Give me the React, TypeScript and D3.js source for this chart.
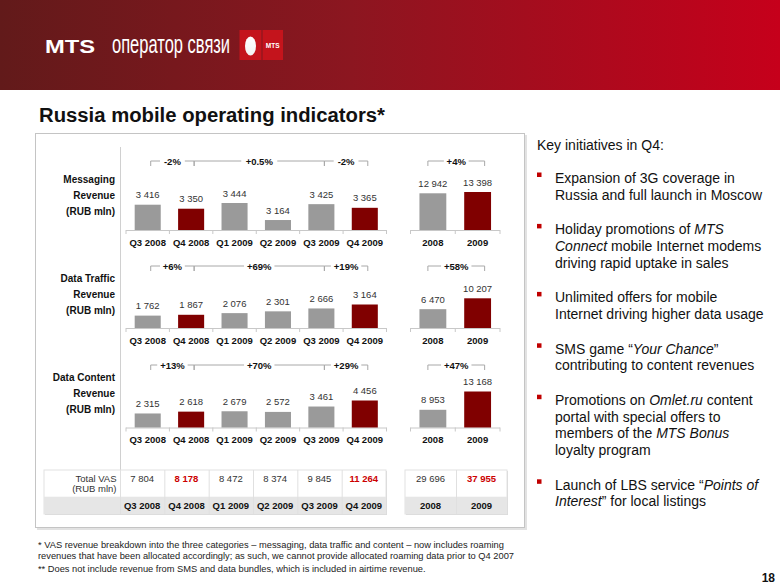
import React from "react";
import * as d3 from "d3";

const W = 780;
const H = 586;
const FONT = "Liberation Sans, Arial, Helvetica, sans-serif";

// ---- data ----
const quarters = ["Q3 2008", "Q4 2008", "Q1 2009", "Q2 2009", "Q3 2009", "Q4 2009"];
const years = ["2008", "2009"];
const highlightQ = ["Q4 2008", "Q4 2009"];
const highlightY = ["2009"];

const messagingQ = [3416, 3350, 3444, 3164, 3425, 3365];
const messagingY = [12942, 13398];
const messagingGrowth = ["-2%", "+0.5%", "-2%"];
const messagingYearGrowth = "+4%";

const trafficQ = [1762, 1867, 2076, 2301, 2666, 3164];
const trafficY = [6470, 10207];
const trafficGrowth = ["+6%", "+69%", "+19%"];
const trafficYearGrowth = "+58%";

const contentQ = [2315, 2618, 2679, 2572, 3461, 4456];
const contentY = [8953, 13168];
const contentGrowth = ["+13%", "+70%", "+29%"];
const contentYearGrowth = "+47%";

const growthPairs: [number, number][] = [[0, 1], [1, 4], [4, 5]];

const totalVasQ = [7804, 8178, 8472, 8374, 9845, 11264];
const totalVasY = [29696, 37955];

const bullets: [string, boolean][][][] = [
  [[["Expansion of 3G coverage in", false]], [["Russia and full launch in Moscow", false]]],
  [
    [["Holiday promotions of ", false], ["MTS", true]],
    [["Connect", true], [" mobile Internet modems", false]],
    [["driving rapid uptake in sales", false]],
  ],
  [[["Unlimited offers for mobile", false]], [["Internet driving higher data usage", false]]],
  [
    [["SMS game \u201C", false], ["Your Chance", true], ["\u201D", false]],
    [["contributing to content revenues", false]],
  ],
  [
    [["Promotions on ", false], ["Omlet.ru", true], [" content", false]],
    [["portal with special offers to", false]],
    [["members of the ", false], ["MTS Bonus", true]],
    [["loyalty program", false]],
  ],
  [
    [["Launch of LBS service \u201C", false], ["Points of", true]],
    [["Interest", true], ["\u201D for local listings", false]],
  ],
];

const fmt = d3
  .formatLocale({ decimal: ".", thousands: " ", grouping: [3], currency: ["", ""] })
  .format(",d");

const GREY = "#9a9a9a";
const RED = "#800000";

type Row = {
  label: string[];
  q: number[];
  y: number[];
  qg: string[];
  yg: string;
  axis: number;
  bracket: number;
  labelTop: number;
  qBase: number;
  qMaxH: number;
  yBase: number;
  yMaxH: number;
};

const rows: Row[] = [
  { label: ["Messaging", "Revenue", "(RUB mln)"], q: messagingQ, y: messagingY, qg: messagingGrowth, yg: messagingYearGrowth,
    axis: 230, bracket: 161, labelTop: 179, qBase: 3000, qMaxH: 27, yBase: 0, yMaxH: 38 },
  { label: ["Data Traffic", "Revenue", "(RUB mln)"], q: trafficQ, y: trafficY, qg: trafficGrowth, yg: trafficYearGrowth,
    axis: 328, bracket: 266, labelTop: 278, qBase: 200, qMaxH: 23.5, yBase: 0, yMaxH: 29.7 },
  { label: ["Data Content", "Revenue", "(RUB mln)"], q: contentQ, y: contentY, qg: contentGrowth, yg: contentYearGrowth,
    axis: 427.5, bracket: 365, labelTop: 377.5, qBase: 0, qMaxH: 27, yBase: 4875, yMaxH: 36 },
];

function Bracket({ x1, x2, y, text }: { x1: number; x2: number; y: number; text: string }) {
  const mid = (x1 + x2) / 2;
  const tw = text.length * 5.6 + 8;
  return (
    <g>
      <path d={`M${x1},${y + 5}V${y}H${x2}V${y + 5}`} fill="none" stroke="#a8a8a8" strokeWidth={1} />
      <rect x={mid - tw / 2} y={y - 6} width={tw} height={12} fill="#fff" />
      <text x={mid} y={y + 3.5} textAnchor="middle" fontWeight="bold" fontSize={9.5} fill="#111">
        {text}
      </text>
    </g>
  );
}

function ChartRow({ r, qx, yx }: { r: Row; qx: d3.ScaleBand<string>; yx: d3.ScaleBand<string> }) {
  const qy = d3.scaleLinear().domain([r.qBase, d3.max(r.q) as number]).range([r.axis, r.axis - r.qMaxH]);
  const yy = d3.scaleLinear().domain([r.yBase, d3.max(r.y) as number]).range([r.axis, r.axis - r.yMaxH]);
  const qc = (i: number) => (qx(quarters[i]) as number) + qx.bandwidth() / 2;
  const yc = (i: number) => (yx(years[i]) as number) + yx.bandwidth() / 2;
  const qr = qx.range();
  const yr = yx.range();
  return (
    <g>
      {r.label.map((l, i) => (
        <text key={l} x={115} y={r.labelTop + i * 16 + 3.5} textAnchor="end" fontWeight="bold" fontSize={10} fill="#111">
          {l}
        </text>
      ))}
      {/* quarterly axis */}
      <line x1={qr[0]} x2={qr[1]} y1={r.axis + 0.5} y2={r.axis + 0.5} stroke="#c8c8c8" />
      {d3.range(quarters.length + 1).map((i) => (
        <line key={i} x1={qr[0] + i * qx.step()} x2={qr[0] + i * qx.step()} y1={r.axis} y2={r.axis + 4} stroke="#c8c8c8" />
      ))}
      {quarters.map((q, i) => {
        const top = qy(r.q[i]);
        return (
          <g key={q}>
            <rect x={qx(q)} y={top} width={qx.bandwidth()} height={r.axis - top} fill={highlightQ.includes(q) ? RED : GREY} />
            <text x={qc(i)} y={top - 6.5} textAnchor="middle" fontSize={9.5} fill="#333">
              {fmt(r.q[i])}
            </text>
            <text x={qc(i)} y={r.axis + 15.5} textAnchor="middle" fontWeight="bold" fontSize={9.5} fill="#111">
              {q}
            </text>
          </g>
        );
      })}
      {growthPairs.map(([a, b], i) => (
        <Bracket key={i} x1={qc(a) + 3} x2={qc(b) + 3} y={r.bracket} text={r.qg[i]} />
      ))}
      {/* annual axis */}
      <line x1={yr[0]} x2={yr[1]} y1={r.axis + 0.5} y2={r.axis + 0.5} stroke="#c8c8c8" />
      {d3.range(years.length + 1).map((i) => (
        <line key={i} x1={yr[0] + i * yx.step()} x2={yr[0] + i * yx.step()} y1={r.axis} y2={r.axis + 4} stroke="#c8c8c8" />
      ))}
      {years.map((yv, i) => {
        const top = yy(r.y[i]);
        return (
          <g key={yv}>
            <rect x={yx(yv)} y={top} width={yx.bandwidth()} height={r.axis - top} fill={highlightY.includes(yv) ? RED : GREY} />
            <text x={yc(i)} y={top - 6.5} textAnchor="middle" fontSize={9.5} fill="#333">
              {fmt(r.y[i])}
            </text>
            <text x={yc(i)} y={r.axis + 15.5} textAnchor="middle" fontWeight="bold" fontSize={9.5} fill="#111">
              {yv}
            </text>
          </g>
        );
      })}
      <Bracket x1={yc(0) - 5} x2={yc(1) + 7} y={r.bracket} text={r.yg} />
    </g>
  );
}

export default function App() {
  const qx = d3.scaleBand<string>().domain(quarters).range([126, 386.5]).paddingInner(0.4).paddingOuter(0.2);
  const yx = d3.scaleBand<string>().domain(years).range([410.5, 500]).paddingInner(0.4).paddingOuter(0.2);
  const tq = d3.scaleBand<string>().domain(quarters).range([120, 386]);
  const ty = d3.scaleBand<string>().domain(years).range([405, 507]);

  // bullet layout
  const lineStep = 16.6;
  const bulletGap = 18.2;
  let cy = 178;
  const bulletLayout = bullets.map((b) => {
    const ys = b.map((_, i) => cy + i * lineStep);
    cy += b.length * lineStep + bulletGap;
    return ys;
  });

  const t1 = 470, t2 = 496.7, t3 = 514;

  return (
    <svg width={W} height={H} style={{ position: "absolute", left: 0, top: 0, background: "#fff" }} fontFamily={FONT}>
      <defs>
        <linearGradient id="hdr" x1="0" x2="1" y1="0" y2="0">
          <stop offset="0" stopColor="#621a1a" />
          <stop offset="0.45" stopColor="#8c1620" />
          <stop offset="1" stopColor="#c6001b" />
        </linearGradient>
        <linearGradient id="egg" x1="0" x2="0" y1="0" y2="1">
          <stop offset="0" stopColor="#ffffff" />
          <stop offset="1" stopColor="#f2f2f2" />
        </linearGradient>
      </defs>
      <rect x={0} y={0} width={W} height={H} fill="#fff" />
      {/* header */}
      <rect x={0} y={0} width={W} height={90} fill="url(#hdr)" />
      <g transform="translate(45,53.3) scale(1.25,1)">
        <text x={0} y={0} fill="#fff" fontWeight="bold" fontSize={19}>
          MTS
        </text>
      </g>
      <g transform="translate(112,53.3) scale(0.66,1)">
        <text x={0} y={0} fill="#fff" fontSize={25}>
          оператор связи
        </text>
      </g>
      <rect x={239.5} y={30} width={22} height={30} fill="#c4141c" />
      <rect x={262.5} y={30} width={20.5} height={30} fill="#c4141c" />
      <ellipse cx={250.5} cy={46} rx={5.5} ry={9.5} fill="url(#egg)" />
      <text x={272.7} y={47.5} textAnchor="middle" fill="#fff" fontWeight="bold" fontSize={6.5}>
        MTS
      </text>

      {/* title */}
      <text x={39} y={122} fontWeight="bold" fontSize={20.3} fill="#111">
        Russia mobile operating indicators*
      </text>

      {/* panel */}
      <rect x={37} y={135} width={490} height={395} fill="#e2e2e2" />
      <rect x={35.5} y={133.5} width={489} height={394} fill="#fff" stroke="#c4c4c4" />
      <line x1={120.5} x2={120.5} y1={147} y2={470} stroke="#d0d0d0" />

      {rows.map((r) => (
        <ChartRow key={r.label[0]} r={r} qx={qx} yx={yx} />
      ))}

      {/* table */}
      <rect x={45} y={t1 + 1} width={386 - 44} height={t3 - t1} fill="#d8d8d8" />
      <rect x={44} y={t1} width={386 - 44} height={t3 - t1} fill="#fff" stroke="#e2e2e2" />
      <rect x={44} y={t2} width={386 - 44} height={t3 - t2} fill="#e6e6e6" />
      <rect x={406} y={t1 + 1} width={507 - 405} height={t3 - t1} fill="#d8d8d8" />
      <rect x={405} y={t1} width={507 - 405} height={t3 - t1} fill="#fff" stroke="#e2e2e2" />
      <rect x={405} y={t2} width={507 - 405} height={t3 - t2} fill="#e6e6e6" />
      {quarters.map((q) => (
        <line key={q} x1={(tq(q) as number) + 0.5} x2={(tq(q) as number) + 0.5} y1={t1} y2={t3} stroke="#e0e0e0" />
      ))}
      <line x1={(ty("2009") as number) + 0.5} x2={(ty("2009") as number) + 0.5} y1={t1} y2={t3} stroke="#e0e0e0" />
      <text x={116.5} y={481.5} textAnchor="end" fontSize={9.5} fill="#333">Total VAS</text>
      <text x={116.5} y={491.5} textAnchor="end" fontSize={9.5} fill="#333">(RUB mln)</text>
      {quarters.map((q, i) => {
        const cx = (tq(q) as number) + tq.bandwidth() / 2;
        const hi = highlightQ.includes(q);
        return (
          <g key={q}>
            <text x={cx} y={481.5} textAnchor="middle" fontSize={9.5} fontWeight={hi ? "bold" : "normal"} fill={hi ? "#cc0000" : "#333"}>
              {fmt(totalVasQ[i])}
            </text>
            <text x={cx} y={508.5} textAnchor="middle" fontSize={9.5} fontWeight="bold" fill="#111">
              {q}
            </text>
          </g>
        );
      })}
      {years.map((yv, i) => {
        const cx = (ty(yv) as number) + ty.bandwidth() / 2;
        const hi = highlightY.includes(yv);
        return (
          <g key={yv}>
            <text x={cx} y={481.5} textAnchor="middle" fontSize={9.5} fontWeight={hi ? "bold" : "normal"} fill={hi ? "#cc0000" : "#333"}>
              {fmt(totalVasY[i])}
            </text>
            <text x={cx} y={508.5} textAnchor="middle" fontSize={9.5} fontWeight="bold" fill="#111">
              {yv}
            </text>
          </g>
        );
      })}

      {/* footnotes */}
      <text x={38} y={547.5} fontSize={9.3} fill="#222">
        * VAS revenue breakdown into the three categories – messaging, data traffic and content – now includes roaming
      </text>
      <text x={38} y={558.5} fontSize={9.3} fill="#222">
        revenues that have been allocated accordingly; as such, we cannot provide allocated roaming data prior to Q4 2007
      </text>
      <text x={38} y={571.5} fontSize={9.3} fill="#222">
        ** Does not include revenue from SMS and data bundles, which is included in airtime revenue.
      </text>

      {/* right text */}
      <text x={537} y={150} fontSize={14} fill="#111">
        Key initiatives in Q4:
      </text>
      {bullets.map((b, bi) => (
        <g key={bi}>
          <rect x={537} y={bulletLayout[bi][0] - 5.5} width={4.5} height={4.5} fill="#c00000" />
          {b.map((line, li) => (
            <text key={li} x={555} y={bulletLayout[bi][li] + 5} fontSize={14} fill="#111">
              {line.map(([s, it], si) => (
                <tspan key={si} fontStyle={it ? "italic" : "normal"}>
                  {s}
                </tspan>
              ))}
            </text>
          ))}
        </g>
      ))}

      <text x={775} y={582} textAnchor="end" fontSize={12} fontWeight="bold" fill="#111">
        18
      </text>
    </svg>
  );
}
